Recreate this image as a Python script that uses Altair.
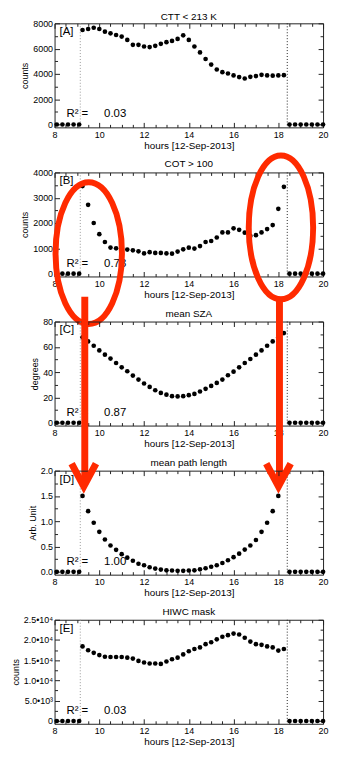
import altair as alt
import pandas as pd

FONT = "Liberation Sans"
RED = "#ff2a00"

# ---------------- data ----------------
hours_on = [9.25, 9.5, 9.75, 10.0, 10.25, 10.5, 10.75, 11.0, 11.25, 11.5, 11.75,
            12.0, 12.25, 12.5, 12.75, 13.0, 13.25, 13.5, 13.75, 14.0, 14.25, 14.5,
            14.75, 15.0, 15.25, 15.5, 15.75, 16.0, 16.25, 16.5, 16.75, 17.0, 17.25,
            17.5, 17.75, 18.0, 18.25]
hours_off = [8.1, 8.35, 8.6, 8.85, 9.1, 18.5, 18.75, 19.0, 19.25, 19.5, 19.75, 20.0]
values_off = [0, 0, 0, 0, 0, 0, 0, 0, 0, 0, 0, 0]

ctt = [7470, 7550, 7650, 7550, 7340, 7210, 7080, 6950, 6690, 6300, 6300, 6170, 6120,
       6220, 6380, 6510, 6610, 6770, 7050, 6690, 6170, 5700, 5180, 4740, 4350, 4140,
       4030, 3880, 3750, 3640, 3770, 3830, 3930, 3880, 3860, 3880, 3900]
cot = [3460, 2720, 2000, 1560, 1250, 1030, 1000, 990, 950, 920, 880, 800, 850, 820,
       820, 800, 790, 870, 960, 1026, 990, 1090, 1250, 1290, 1430, 1630, 1630, 1790,
       1730, 1620, 1490, 1520, 1630, 1760, 1920, 2560, 3430]
sza = [67.5, 64.3, 60.9, 57.2, 53.8, 50.7, 47.2, 43.8, 40.7, 37.3, 34.1, 31.0, 28.3,
       25.7, 23.6, 22.2, 21.0, 20.8, 21.0, 21.8, 22.8, 24.7, 26.8, 29.1, 31.5, 34.1,
       37.5, 40.4, 43.8, 47.2, 50.4, 53.8, 57.2, 60.9, 64.3, 67.5, 70.9]
path_len = [1.50, 1.20, 0.97, 0.79, 0.64, 0.52, 0.435, 0.35, 0.28, 0.22, 0.16, 0.13,
            0.09, 0.065, 0.045, 0.03, 0.026, 0.02, 0.02, 0.026, 0.03, 0.05, 0.07, 0.10,
            0.13, 0.175, 0.23, 0.29, 0.36, 0.44, 0.52, 0.63, 0.79, 0.97, 1.20, 1.50]
hiwc = [18410, 17460, 16830, 16270, 15870, 15790, 15790, 15790, 15640, 15400, 14840,
        14440, 14200, 14200, 14100, 14680, 15240, 15640, 16430, 17220, 17780, 18170,
        18970, 19440, 20160, 20790, 21190, 21590, 21350, 20560, 19600, 18970, 18810,
        18410, 18170, 17380, 17780]

cut_hours = [9.15, 18.4]
titles = ["CTT < 213 K", "COT > 100", "mean SZA", "mean path length", "HIWC mask"]
ytitles = ["counts", "counts", "degrees", "Arb. Unit", "counts"]
letters = ["[A]", "[B]", "[C]", "[D]", "[E]"]
r2_values = ["0.03", "0.73", "0.87", "1.00", "0.03"]

x_major = [8, 10, 12, 14, 16, 18, 20]
x_minor = [8.5, 9, 9.5, 10.5, 11, 11.5, 12.5, 13, 13.5, 14.5, 15, 15.5, 16.5, 17,
           17.5, 18.5, 19, 19.5]
y_tops = [8000, 4000, 80, 2.0, 25000]
y_major = [[0, 2000, 4000, 6000, 8000], [0, 1000, 2000, 3000, 4000],
           [0, 20, 40, 60, 80], [0.0, 0.5, 1.0, 1.5, 2.0],
           [0, 5000, 10000, 15000, 20000, 25000]]
y_minor = [[1000, 3000, 5000, 7000], [500, 1500, 2500, 3500], [10, 30, 50, 70],
           [0.25, 0.75, 1.25, 1.75], [2500, 7500, 12500, 17500, 22500]]

# ---------------- layout ----------------
W, H = 271, 105
SPACING = 45.5
P = H + SPACING

xs = alt.Scale(domain=[8, 20], nice=False, zero=False)
one = pd.DataFrame({"a": [0]})


def ellipse_path(r):
    k = 0.5523
    return (f"M0,-1C{k*r:.4f},-1 {r:.4f},{-k:.4f} {r:.4f},0"
            f"C{r:.4f},{k:.4f} {k*r:.4f},1 0,1"
            f"C{-k*r:.4f},1 {-r:.4f},{k:.4f} {-r:.4f},0"
            f"C{-r:.4f},{-k:.4f} {-k*r:.4f},-1 0,-1Z")


def make_panel(i, values, yfmt=None, ylabel_expr=None, extra=(), title_y=-5):
    n = len(values)
    df = pd.DataFrame({"h": hours_on[:n] + hours_off, "v": values + values_off})
    top = y_tops[i]
    ys = alt.Scale(domain=[-0.028 * top, top], nice=False, zero=False)
    base = alt.Chart(df)

    ykw = dict(orient="left", values=y_major[i], title=ytitles[i], ticks=False,
               domain=False, labelPadding=2, titlePadding=3, labelFontSize=9,
               titleFontSize=9, labelFlush=False, labelOverlap=False)
    if yfmt:
        ykw["format"] = yfmt
    if ylabel_expr:
        ykw["labelExpr"] = ylabel_expr

    pts = base.mark_circle(size=22, color="black", opacity=1).encode(
        x=alt.X("h:Q", scale=xs,
                axis=alt.Axis(orient="bottom", values=x_major,
                              title="hours [12-Sep-2013]", ticks=False,
                              domain=False, labelPadding=3, titlePadding=1,
                              labelFontSize=9, titleFontSize=10,
                              labelFlush=False, labelOverlap=False)),
        y=alt.Y("v:Q", scale=ys, axis=alt.Axis(**ykw)),
    )

    def tick_layer(xorient, yorient, xvals, yvals, size):
        return base.mark_point(opacity=0).encode(
            x=alt.X("h:Q", scale=xs,
                    axis=alt.Axis(orient=xorient, offset=-H, values=xvals,
                                  labels=False, domain=False, title=None,
                                  tickSize=size, tickColor="#222")),
            y=alt.Y("v:Q", scale=ys,
                    axis=alt.Axis(orient=yorient, offset=-W, values=yvals,
                                  labels=False, domain=False, title=None,
                                  tickSize=size, tickColor="#222")),
        )

    t1 = tick_layer("top", "right", x_major, y_major[i], 5)
    t2 = tick_layer("top", "right", x_minor, y_minor[i], 3)
    t3 = tick_layer("bottom", "left", x_major, y_major[i], 5)
    t4 = tick_layer("bottom", "left", x_minor, y_minor[i], 3)

    rule_l = alt.Chart(pd.DataFrame({"h": [cut_hours[0]]})).mark_rule(
        color="#9a9a9a", strokeDash=[1, 2], strokeWidth=1).encode(
        x=alt.X("h:Q", scale=xs, axis=None))
    rule_r = alt.Chart(pd.DataFrame({"h": [cut_hours[1]]})).mark_rule(
        color="#222222", strokeDash=[1, 2], strokeWidth=1).encode(
        x=alt.X("h:Q", scale=xs, axis=None))

    ttl = alt.Chart(one).mark_text(
        text=titles[i], align="center", baseline="alphabetic", fontSize=10,
        font=FONT, color="black").encode(x=alt.value(W / 2), y=alt.value(title_y))
    letter = alt.Chart(one).mark_text(
        text=letters[i], align="left", baseline="alphabetic", fontSize=11.5,
        font=FONT, color="black").encode(x=alt.value(5), y=alt.value(12))
    rlab = alt.Chart(one).mark_text(
        text="R² =", align="left", baseline="alphabetic", fontSize=11.5,
        font=FONT, color="black").encode(x=alt.value(12), y=alt.value(95))
    rval = alt.Chart(one).mark_text(
        text=r2_values[i], align="left", baseline="alphabetic", fontSize=11.5,
        font=FONT, color="black").encode(x=alt.value(50), y=alt.value(95))

    layers = [rule_l, rule_r, t1, t2, t3, t4, pts, ttl, letter, rlab, rval] + list(extra)
    return alt.layer(*layers).properties(width=W, height=H).resolve_axis(
        x="independent", y="independent")


# red annotations
ell_left = alt.Chart(one).mark_point(
    shape=ellipse_path(33.5 / 71.5), size=(2 * 71.5) ** 2, filled=False,
    color=RED, strokeWidth=6, opacity=1).encode(x=alt.value(34.5), y=alt.value(81.5))
ell_right = alt.Chart(one).mark_point(
    shape=ellipse_path(32.5 / 72.5), size=(2 * 72.5) ** 2, filled=False,
    color=RED, strokeWidth=6, opacity=1).encode(x=alt.value(228.5), y=alt.value(55.5))

shaft_left = alt.Chart(one).mark_rule(color=RED, strokeWidth=7).encode(
    x=alt.value(30.5), y=alt.value(-25), y2=alt.value(P + 14))
shaft_right = alt.Chart(one).mark_rule(color=RED, strokeWidth=7).encode(
    x=alt.value(227), y=alt.value(-25), y2=alt.value(P + 14))

chev = "M-1.07,-1L0,1L1.07,-1"
head_left = alt.Chart(one).mark_point(
    shape=chev, size=529, filled=False, color=RED, strokeWidth=7,
    strokeJoin="miter", opacity=1).encode(x=alt.value(29.5), y=alt.value(4.5))
head_right = alt.Chart(one).mark_point(
    shape=chev, size=529, filled=False, color=RED, strokeWidth=7,
    strokeJoin="miter", opacity=1).encode(x=alt.value(226), y=alt.value(4.5))

e_expr = ("datum.value == 0 ? '0' : datum.value == 5000 ? '5.0•10³' : "
          "format(datum.value / 10000, '.1f') + '•10⁴'")

panels = [
    make_panel(0, ctt, yfmt="d", title_y=-3),
    make_panel(1, cot, yfmt="d", extra=[ell_left, ell_right]),
    make_panel(2, sza, yfmt="d", extra=[shaft_left, shaft_right]),
    make_panel(3, path_len, yfmt=".1f", extra=[head_left, head_right]),
    make_panel(4, hiwc, ylabel_expr=e_expr),
]

chart = alt.vconcat(*panels, spacing=SPACING, bounds="flush").properties(
    padding={"left": 2, "top": 0, "right": 0, "bottom": 0}
).configure(font=FONT).configure_view(
    stroke="#222222", strokeWidth=1
).configure_axis(
    grid=False, labelFont=FONT, titleFont=FONT, labelColor="black",
    titleColor="black", titleFontWeight="normal"
)

chart.save("out.html", embed_options={"renderer": "svg", "actions": False})
